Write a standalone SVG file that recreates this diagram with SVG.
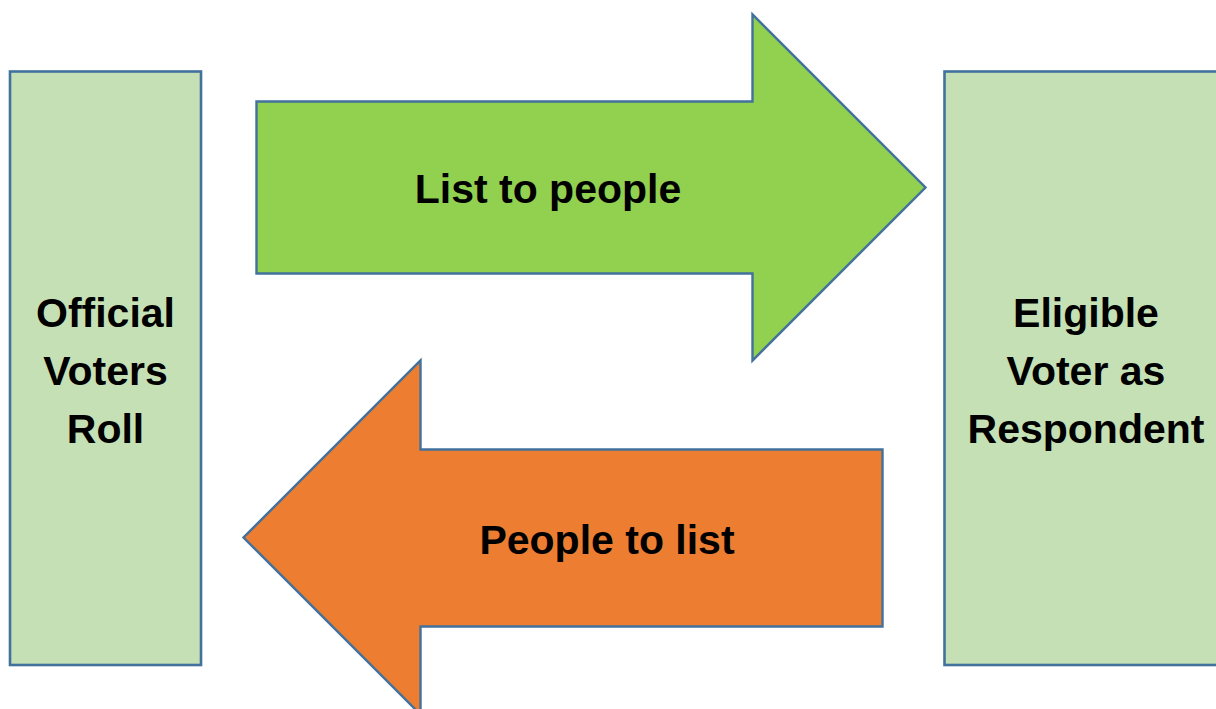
<svg xmlns="http://www.w3.org/2000/svg" width="1216" height="709" viewBox="0 0 1216 709">
<style>
.box{fill:#C5E0B4;stroke:#41719C;stroke-width:2.6}
.arr{stroke:#41719C;stroke-width:2.4;stroke-linejoin:miter}
text{font-family:"Liberation Sans",Arial,sans-serif;font-weight:bold;font-size:41px;fill:#000;text-anchor:middle}
</style>
<rect width="1216" height="709" fill="#fff"/>
<g id="official-voters-roll">
<rect class="box" x="10" y="71.5" width="191" height="593.5"/>
<text x="105.5" y="327">Official</text>
<text x="105.5" y="385">Voters</text>
<text x="105.5" y="443">Roll</text>
</g>
<g id="eligible-voter">
<rect class="box" x="944.5" y="71.5" width="290" height="593.5"/>
<text x="1086" y="327">Eligible</text>
<text x="1086" y="385">Voter as</text>
<text x="1086" y="443">Respondent</text>
</g>
<g id="connectors">
<g id="list-to-people">
<polygon class="arr" fill="#92D050" points="256.5,101.5 752.5,101.5 752.5,14.5 925.5,187.5 752.5,360.5 752.5,273.5 256.5,273.5"/>
<text x="548" y="203">List to people</text>
</g>
<g id="people-to-list">
<polygon class="arr" fill="#ED7D31" points="882.5,449.5 420.5,449.5 420.5,360.5 243.5,537.5 420.5,714.5 420.5,626.5 882.5,626.5"/>
<text x="607" y="554">People to list</text>
</g>
</g>
</svg>
